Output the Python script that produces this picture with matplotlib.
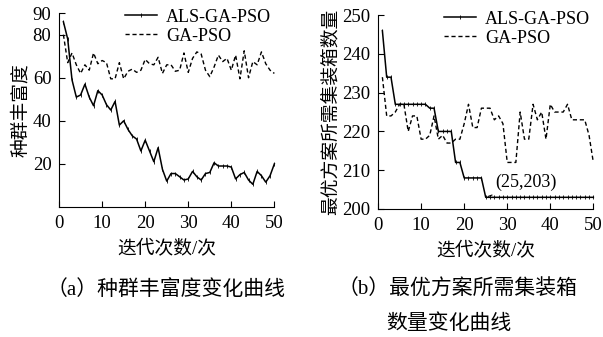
import matplotlib
matplotlib.use('Agg')
import matplotlib.pyplot as plt

plt.rcParams['font.family'] = ['Liberation Serif', 'Noto Sans CJK SC']
plt.rcParams['axes.unicode_minus'] = False

iters = list(range(1, 51))

# (a) population richness
rich_als = [86, 78, 59, 51, 52, 57, 51, 47, 54, 52, 47.5, 45, 49, 38, 40, 36, 33, 31.5, 26, 31,
            26, 21, 27.5, 17.5, 12, 15.5, 15.5, 14, 12.5, 13, 16.5, 14, 12.5, 15.5, 16, 20.5, 19, 19, 19, 18.5,
            13, 15, 16, 12.5, 10.5, 16.5, 14.5, 11.5, 14.5, 20]
rich_ga = [80, 67, 71.5, 66, 62, 66, 63.5, 71.5, 66.5, 68, 67, 59.5, 59.5, 67, 59.5, 63, 64, 62.5, 63.5, 68.5,
           66.5, 66, 69.5, 62, 66, 66, 63, 63.5, 71.5, 62.5, 69, 72, 71, 63.5, 60.5, 65, 70.5, 67.5, 69, 63.5,
           70.5, 59.5, 72.5, 60, 67.5, 66, 72, 66.5, 63.5, 62]

# (b) number of containers of the best plan
box_als = [246, 234, 234, 227, 227, 227, 227, 227, 227, 227, 227, 226, 226, 220, 220, 220, 220, 212, 212, 208,
           208, 208, 208, 208, 203, 203, 203, 203, 203, 203, 203, 203, 203, 203, 203, 203, 203, 203, 203, 203,
           203, 203, 203, 203, 203, 203, 203, 203, 203, 203]
box_ga = [234, 224, 224, 225, 227, 227, 220, 224, 224, 218, 218, 219, 224, 218, 219, 217, 217, 218, 218, 222,
          227, 221, 221, 226, 226, 226, 223, 224, 222, 212, 212, 212, 225, 218, 218, 227, 223, 225, 218, 227,
          225, 225, 225, 227, 223, 223, 223, 223, 219, 212]

fig = plt.figure(figsize=(6.03, 3.37), dpi=100)
ax1 = fig.add_axes([0.098, 0.386, 0.357, 0.575])
ax2 = fig.add_axes([0.627, 0.380, 0.357, 0.575])

def style(ax, ylabel):
    ax.spines['top'].set_visible(False)
    ax.spines['right'].set_visible(False)
    ax.tick_params(direction='in', length=4, width=0.8, labelsize=13.5, pad=5.5)
    ax.set_xlim(0, 50)
    ax.set_xticks([0, 10, 20, 30, 40, 50])
    ax.set_xlabel('迭代次数/次', fontsize=13.5, labelpad=6)
    ax.set_ylabel(ylabel, fontsize=13.5, labelpad=2)
    ax.legend(loc='upper right', frameon=False, fontsize=13, handlelength=1.8,
              handletextpad=0.5, labelspacing=0.1, borderaxespad=0.0,
              bbox_to_anchor=(1.02, 1.06))

ax1.plot(iters, rich_als, color='black', lw=1.1, marker='|', ms=2.5, mew=0.6,
         label='ALS-GA-PSO', clip_on=False)
ax1.plot(iters, rich_ga, color='black', lw=1.0, ls=(0, (3, 2)),
         label='GA-PSO', clip_on=False)
ax1.set_ylim(0, 90)
ax1.set_yticks([20, 40, 60, 80, 90])
style(ax1, '种群丰富度')

ax2.plot(iters, box_als, color='black', lw=1.1, marker='|', ms=2.5, mew=0.6,
         label='ALS-GA-PSO', clip_on=False)
ax2.plot(iters, box_ga, color='black', lw=1.0, ls=(0, (3, 2)),
         label='GA-PSO', clip_on=False)
ax2.set_ylim(200, 250)
ax2.set_yticks([200, 210, 220, 230, 240, 250])
style(ax2, '最优方案所需集装箱数量')
ax2.annotate('(25,203)', xy=(25, 203), xytext=(27.3, 205.6), fontsize=13,
             arrowprops=dict(arrowstyle='-', color='black', lw=0.8))

fig.text(0.275, 1 - 290 / 337, '（a）种群丰富度变化曲线', fontsize=15, ha='center', va='center')
fig.text(338 / 603, 1 - 290 / 337, '（b）最优方案所需集装箱', fontsize=15, ha='left', va='center')
fig.text(386 / 603, 1 - 324 / 337, '数量变化曲线', fontsize=15, ha='left', va='center')

fig.savefig('out.png', dpi=100)
